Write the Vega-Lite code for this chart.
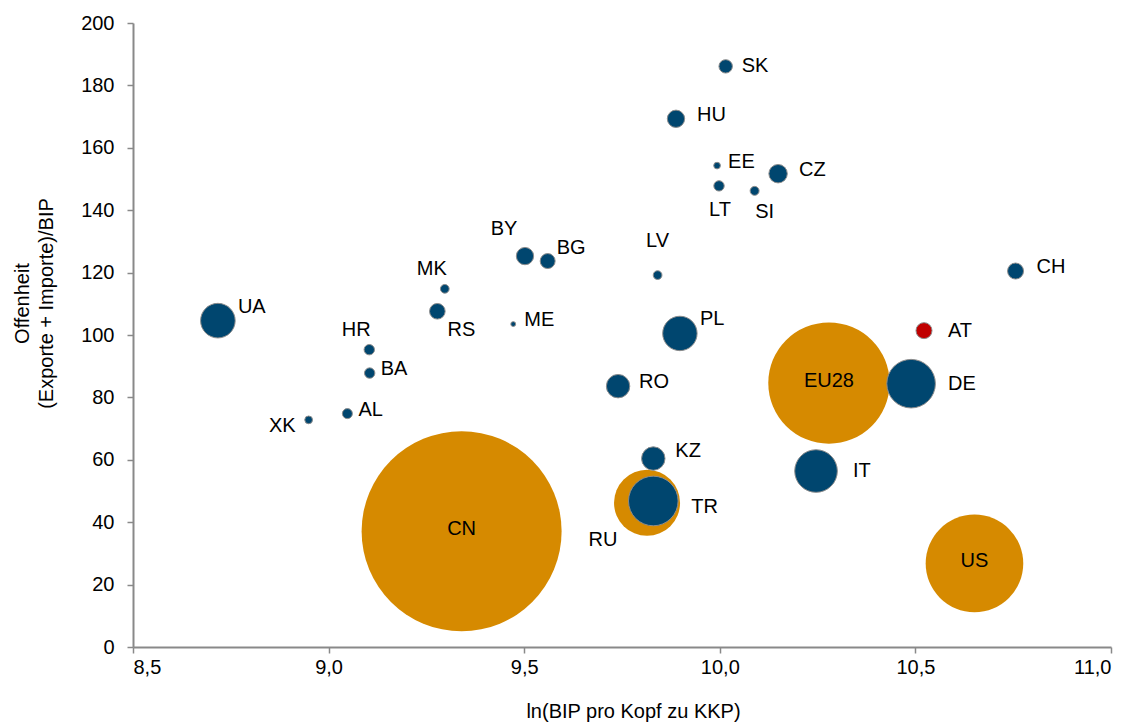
{
  "$schema": "https://vega.github.io/schema/vega-lite/v6.json",
  "width": 978,
  "height": 624,
  "autosize": {"type": "none"},
  "padding": {"left": 133, "top": 23, "right": 25, "bottom": 77},
  "background": "white",
  "config": {
    "view": {"stroke": null},
    "font": "Liberation Sans",
    "axis": {
      "grid": false,
      "domainColor": "#898989",
      "domainWidth": 2,
      "tickColor": "#898989",
      "tickWidth": 1.5,
      "tickSize": 6,
      "labelFont": "Liberation Sans",
      "labelFontSize": 20,
      "labelColor": "#000000",
      "titleFont": "Liberation Sans",
      "titleFontSize": 20,
      "titleFontWeight": "normal",
      "titleColor": "#000000"
    }
  },
  "data": {
    "values": [
      {"Land": "CN", "BIP": 9.340, "Offenheit": 37.1, "Gewicht": 100, "Gruppe": "Groß"},
      {"Land": "EU28", "BIP": 10.279, "Offenheit": 84.6, "Gewicht": 36.8, "Gruppe": "Groß"},
      {"Land": "US", "BIP": 10.651, "Offenheit": 26.8, "Gewicht": 23.8, "Gruppe": "Groß"},
      {"Land": "RU", "BIP": 9.814, "Offenheit": 46.2, "Gewicht": 10.9, "Gruppe": "Groß"},
      {"Land": "TR", "BIP": 9.830, "Offenheit": 46.8, "Gewicht": 6.15, "Gruppe": "Land"},
      {"Land": "DE", "BIP": 10.489, "Offenheit": 84.4, "Gewicht": 5.9, "Gruppe": "Land"},
      {"Land": "IT", "BIP": 10.246, "Offenheit": 56.4, "Gewicht": 4.54, "Gruppe": "Land"},
      {"Land": "UA", "BIP": 8.717, "Offenheit": 104.6, "Gewicht": 2.99, "Gruppe": "Land"},
      {"Land": "PL", "BIP": 9.898, "Offenheit": 100.5, "Gewicht": 2.96, "Gruppe": "Land"},
      {"Land": "RO", "BIP": 9.740, "Offenheit": 83.6, "Gewicht": 1.37, "Gruppe": "Land"},
      {"Land": "KZ", "BIP": 9.830, "Offenheit": 60.4, "Gewicht": 1.37, "Gruppe": "Land"},
      {"Land": "CZ", "BIP": 10.149, "Offenheit": 151.7, "Gewicht": 0.85, "Gruppe": "Land"},
      {"Land": "HU", "BIP": 9.888, "Offenheit": 169.3, "Gewicht": 0.75, "Gruppe": "Land"},
      {"Land": "BY", "BIP": 9.502, "Offenheit": 125.3, "Gewicht": 0.75, "Gruppe": "Land"},
      {"Land": "AT", "BIP": 10.522, "Offenheit": 101.4, "Gewicht": 0.64, "Gruppe": "AT"},
      {"Land": "CH", "BIP": 10.756, "Offenheit": 120.5, "Gewicht": 0.64, "Gruppe": "Land"},
      {"Land": "RS", "BIP": 9.278, "Offenheit": 107.6, "Gewicht": 0.61, "Gruppe": "Land"},
      {"Land": "BG", "BIP": 9.560, "Offenheit": 123.7, "Gewicht": 0.56, "Gruppe": "Land"},
      {"Land": "SK", "BIP": 10.015, "Offenheit": 186.1, "Gewicht": 0.45, "Gruppe": "Land"},
      {"Land": "HR", "BIP": 9.104, "Offenheit": 95.3, "Gewicht": 0.27, "Gruppe": "Land"},
      {"Land": "BA", "BIP": 9.105, "Offenheit": 87.8, "Gewicht": 0.27, "Gruppe": "Land"},
      {"Land": "LT", "BIP": 9.998, "Offenheit": 147.8, "Gewicht": 0.27, "Gruppe": "Land"},
      {"Land": "AL", "BIP": 9.048, "Offenheit": 74.8, "Gewicht": 0.25, "Gruppe": "Land"},
      {"Land": "SI", "BIP": 10.089, "Offenheit": 146.2, "Gewicht": 0.20, "Gruppe": "Land"},
      {"Land": "LV", "BIP": 9.841, "Offenheit": 119.2, "Gewicht": 0.19, "Gruppe": "Land"},
      {"Land": "MK", "BIP": 9.297, "Offenheit": 114.8, "Gewicht": 0.19, "Gruppe": "Land"},
      {"Land": "XK", "BIP": 8.949, "Offenheit": 72.8, "Gewicht": 0.15, "Gruppe": "Land"},
      {"Land": "EE", "BIP": 9.993, "Offenheit": 154.3, "Gewicht": 0.11, "Gruppe": "Land"},
      {"Land": "ME", "BIP": 9.472, "Offenheit": 103.5, "Gewicht": 0.06, "Gruppe": "Land"}
    ]
  },
  "encoding": {
    "x": {
      "field": "BIP",
      "type": "quantitative",
      "scale": {"domain": [8.5, 11], "zero": false, "nice": false},
      "axis": {
        "title": "ln(BIP pro Kopf zu KKP)",
        "values": [8.5, 9, 9.5, 10, 10.5, 11],
        "labelExpr": "replace(format(datum.value, '.1f'), '.', ',')",
        "labelPadding": 4,
        "titlePadding": 24,
        "titleX": 500
      }
    },
    "y": {
      "field": "Offenheit",
      "type": "quantitative",
      "scale": {"domain": [0, 200], "nice": false},
      "axis": {
        "title": ["Offenheit", "(Exporte + Importe)/BIP"],
        "values": [0, 20, 40, 60, 80, 100, 120, 140, 160, 180, 200],
        "format": "d",
        "labelPadding": 13,
        "titlePadding": 24,
        "titleLineHeight": 24,
        "titleY": 280
      }
    }
  },
  "layer": [
    {
      "mark": {"type": "circle", "opacity": 1, "strokeWidth": 1},
      "encoding": {
        "size": {"field": "Gewicht", "type": "quantitative", "scale": {"type": "linear", "domain": [0, 100], "range": [0, 40000]}, "legend": null},
        "color": {"field": "Gruppe", "type": "nominal", "scale": {"domain": ["Land", "Groß", "AT"], "range": ["#00466F", "#D68A00", "#C00000"]}, "legend": null},
        "stroke": {"field": "Gruppe", "type": "nominal", "scale": {"domain": ["Land", "Groß", "AT"], "range": ["#8C8C8C", "transparent", "#8C8C8C"]}, "legend": null},
        "order": {"field": "Gewicht", "type": "quantitative", "sort": "descending"}
      }
    },
    {
      "transform": [{"filter": {"field": "Land", "oneOf": ["EE", "ME", "BA", "AL"]}}],
      "mark": {"type": "text", "align": "left", "baseline": "middle", "dx": 11, "dy": -4, "fontSize": 20, "color": "#000000"},
      "encoding": {"text": {"field": "Land"}}
    },
    {
      "transform": [{"filter": {"field": "Land", "oneOf": ["HU", "CZ", "RO", "CH"]}}],
      "mark": {"type": "text", "align": "left", "baseline": "middle", "dx": 21, "dy": -4, "fontSize": 20, "color": "#000000"},
      "encoding": {"text": {"field": "Land"}}
    },
    {
      "transform": [{"filter": {"field": "Land", "oneOf": ["SK"]}}],
      "mark": {"type": "text", "align": "left", "baseline": "middle", "dx": 16, "dy": 0, "fontSize": 20, "color": "#000000"},
      "encoding": {"text": {"field": "Land"}}
    },
    {
      "transform": [{"filter": {"field": "Land", "oneOf": ["AT"]}}],
      "mark": {"type": "text", "align": "left", "baseline": "middle", "dx": 24, "dy": 0, "fontSize": 20, "color": "#000000"},
      "encoding": {"text": {"field": "Land"}}
    },
    {
      "transform": [{"filter": {"field": "Land", "oneOf": ["KZ"]}}],
      "mark": {"type": "text", "align": "left", "baseline": "middle", "dx": 22, "dy": -8, "fontSize": 20, "color": "#000000"},
      "encoding": {"text": {"field": "Land"}}
    },
    {
      "transform": [{"filter": {"field": "Land", "oneOf": ["PL", "UA"]}}],
      "mark": {"type": "text", "align": "left", "baseline": "middle", "dx": 20, "dy": -14, "fontSize": 20, "color": "#000000"},
      "encoding": {"text": {"field": "Land"}}
    },
    {
      "transform": [{"filter": {"field": "Land", "oneOf": ["BG"]}}],
      "mark": {"type": "text", "align": "left", "baseline": "middle", "dx": 9, "dy": -13, "fontSize": 20, "color": "#000000"},
      "encoding": {"text": {"field": "Land"}}
    },
    {
      "transform": [{"filter": {"field": "Land", "oneOf": ["DE", "IT"]}}],
      "mark": {"type": "text", "align": "left", "baseline": "middle", "dx": 37, "dy": 0, "fontSize": 20, "color": "#000000"},
      "encoding": {"text": {"field": "Land"}}
    },
    {
      "transform": [{"filter": {"field": "Land", "oneOf": ["TR"]}}],
      "mark": {"type": "text", "align": "left", "baseline": "middle", "dx": 38, "dy": 6, "fontSize": 20, "color": "#000000"},
      "encoding": {"text": {"field": "Land"}}
    },
    {
      "transform": [{"filter": {"field": "Land", "oneOf": ["MK", "HR"]}}],
      "mark": {"type": "text", "align": "center", "baseline": "middle", "dx": -13, "dy": -20, "fontSize": 20, "color": "#000000"},
      "encoding": {"text": {"field": "Land"}}
    },
    {
      "transform": [{"filter": {"field": "Land", "oneOf": ["BY"]}}],
      "mark": {"type": "text", "align": "center", "baseline": "middle", "dx": -21, "dy": -27, "fontSize": 20, "color": "#000000"},
      "encoding": {"text": {"field": "Land"}}
    },
    {
      "transform": [{"filter": {"field": "Land", "oneOf": ["LV"]}}],
      "mark": {"type": "text", "align": "center", "baseline": "middle", "dx": 0, "dy": -34, "fontSize": 20, "color": "#000000"},
      "encoding": {"text": {"field": "Land"}}
    },
    {
      "transform": [{"filter": {"field": "Land", "oneOf": ["LT"]}}],
      "mark": {"type": "text", "align": "center", "baseline": "middle", "dx": 1, "dy": 24, "fontSize": 20, "color": "#000000"},
      "encoding": {"text": {"field": "Land"}}
    },
    {
      "transform": [{"filter": {"field": "Land", "oneOf": ["SI"]}}],
      "mark": {"type": "text", "align": "center", "baseline": "middle", "dx": 10, "dy": 21, "fontSize": 20, "color": "#000000"},
      "encoding": {"text": {"field": "Land"}}
    },
    {
      "transform": [{"filter": {"field": "Land", "oneOf": ["RS"]}}],
      "mark": {"type": "text", "align": "center", "baseline": "middle", "dx": 24, "dy": 19, "fontSize": 20, "color": "#000000"},
      "encoding": {"text": {"field": "Land"}}
    },
    {
      "transform": [{"filter": {"field": "Land", "oneOf": ["XK"]}}],
      "mark": {"type": "text", "align": "right", "baseline": "middle", "dx": -13, "dy": 6, "fontSize": 20, "color": "#000000"},
      "encoding": {"text": {"field": "Land"}}
    },
    {
      "transform": [{"filter": {"field": "Land", "oneOf": ["RU"]}}],
      "mark": {"type": "text", "align": "center", "baseline": "middle", "dx": -44, "dy": 37, "fontSize": 20, "color": "#000000"},
      "encoding": {"text": {"field": "Land"}}
    },
    {
      "transform": [{"filter": {"field": "Land", "oneOf": ["CN", "EU28", "US"]}}],
      "mark": {"type": "text", "align": "center", "baseline": "middle", "dx": 0, "dy": -2, "fontSize": 20, "color": "#000000"},
      "encoding": {"text": {"field": "Land"}}
    }
  ]
}
